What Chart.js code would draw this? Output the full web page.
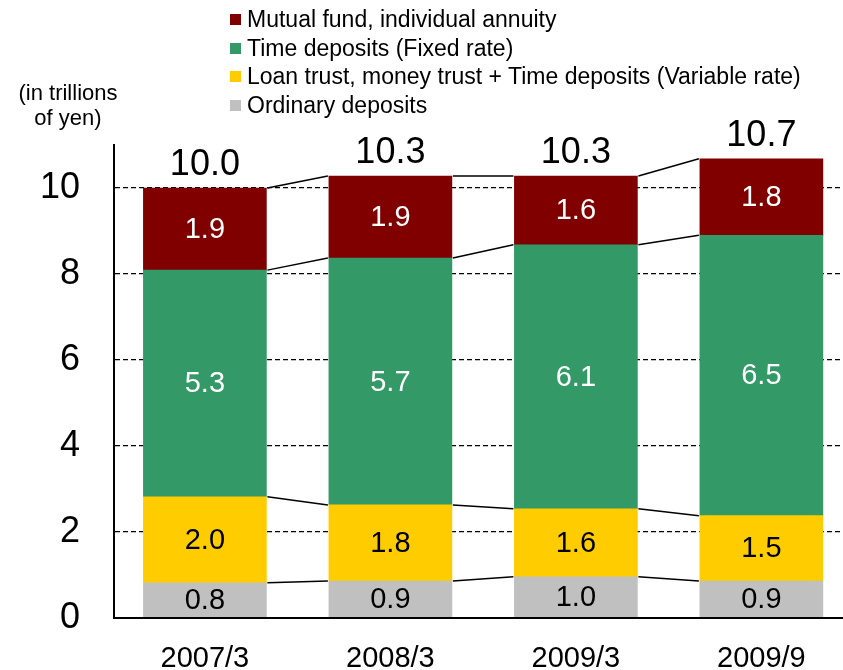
<!DOCTYPE html>
<html>
<head>
<meta charset="utf-8">
<script src="https://cdn.jsdelivr.net/npm/chart.js@4"></script>
<style>
  body { margin: 0; background: #fff; }
  #wrap { position: relative; width: 843px; height: 670px; font-family: 'Liberation Sans', Arial, sans-serif; }
  #unit { position: absolute; left: 0; width: 136px; top: 80px; text-align: center; font-size: 22px; line-height: 25px; color: #000; }
  #legend { position: absolute; left: 230px; top: 5px; }
  .row { display: flex; align-items: center; height: 28.7px; font-size: 23px; color: #000; white-space: nowrap; }
  .box { width: 11px; height: 11px; margin-right: 6px; }
</style>
</head>
<body>
<div id="wrap">
  <canvas id="chart"></canvas>
  <div id="unit">(in trillions<br>of yen)</div>
  <div id="legend"></div>
</div>
<script>
// categories and series (trillions of yen)
const categories = ['2007/3', '2008/3', '2009/3', '2009/9'];
const ordinaryDeposits = [0.82, 0.86, 0.96, 0.86];
const loanTrust = [2.00, 1.77, 1.58, 1.52];
const timeDepositsFixed = [5.27, 5.74, 6.14, 6.52];
const mutualFund = [1.91, 1.91, 1.60, 1.78];
const yTicks = [0, 2, 4, 6, 8, 10];

const seriesNames = [
    'Ordinary deposits',
    'Loan trust, money trust + Time deposits (Variable rate)',
    'Time deposits (Fixed rate)',
    'Mutual fund, individual annuity'
];
const seriesColors = ['#C0C0C0', '#FFCC00', '#339966', '#800000'];
const labelColors = ['#000', '#000', '#fff', '#fff'];
const seriesValues = [ordinaryDeposits, loanTrust, timeDepositsFixed, mutualFund];

const FONT = "'Liberation Sans', Arial, sans-serif";

// legend, top series first
const legendEl = document.getElementById('legend');
for (let i = seriesNames.length - 1; i >= 0; i--) {
    const row = document.createElement('div');
    row.className = 'row';
    row.innerHTML = `<span class="box" style="background:${seriesColors[i]}"></span>${seriesNames[i]}`;
    legendEl.appendChild(row);
}

// connectors between bars + value labels
const barExtras = {
    id: 'barExtras',
    afterDatasetsDraw(chart) {
        const ctx = chart.ctx;
        const metas = seriesValues.map((_, d) => chart.getDatasetMeta(d));

        ctx.save();
        ctx.strokeStyle = '#000';
        ctx.lineWidth = 1.5;
        metas.forEach(meta => {
            for (let i = 0; i < meta.data.length - 1; i++) {
                const a = meta.data[i], b = meta.data[i + 1];
                ctx.beginPath();
                ctx.moveTo(a.x + a.width / 2 + 1, a.y);
                ctx.lineTo(b.x - b.width / 2 - 1, b.y);
                ctx.stroke();
            }
        });
        ctx.restore();

        ctx.save();
        ctx.textAlign = 'center';
        ctx.textBaseline = 'middle';
        ctx.font = `29px ${FONT}`;
        metas.forEach((meta, d) => {
            ctx.fillStyle = labelColors[d];
            meta.data.forEach((bar, i) => {
                ctx.fillText(seriesValues[d][i].toFixed(1), bar.x, (bar.y + bar.base) / 2 + 1);
            });
        });

        ctx.font = `36px ${FONT}`;
        ctx.fillStyle = '#000';
        const top = metas[metas.length - 1];
        top.data.forEach((bar, i) => {
            const total = seriesValues.reduce((s, arr) => s + arr[i], 0);
            ctx.fillText(total.toFixed(1), bar.x, bar.y - 23);
        });
        ctx.restore();
    }
};

new Chart(document.getElementById('chart'), {
    type: 'bar',
    data: {
        datasets: seriesValues.map((vals, d) => ({
            label: seriesNames[d],
            data: vals.map((v, i) => ({ x: i, y: v })),
            backgroundColor: seriesColors[d],
            barThickness: 123
        }))
    },
    options: {
        responsive: true,
        maintainAspectRatio: false,
        animation: false,
        layout: { padding: { top: 145, right: 0, left: 0, bottom: 0 } },
        plugins: { legend: { display: false }, tooltip: { enabled: false } },
        scales: {
            x: {
                type: 'linear',
                stacked: true,
                offset: false,
                min: -0.49,
                max: 3.44,
                afterBuildTicks: axis => { axis.ticks = categories.map((_, i) => ({ value: i })); },
                afterFit: axis => { axis.height = 52; },
                grid: { display: false, drawTicks: false },
                border: { display: true, color: '#000', width: 2, z: 1 },
                ticks: {
                    padding: 24,
                    color: '#000',
                    font: { family: FONT, size: 29 },
                    maxRotation: 0,
                    autoSkip: false,
                    callback: v => categories[v]
                }
            },
            y: {
                stacked: true,
                min: 0,
                max: 11,
                afterBuildTicks: axis => { axis.ticks = yTicks.map(v => ({ value: v })); },
                afterFit: axis => { axis.width = 114; },
                grid: { color: '#000', lineWidth: 1.3, drawTicks: false },
                border: { display: true, color: '#000', width: 2, dash: [5, 3], z: 1 },
                ticks: {
                    padding: 34,
                    color: '#000',
                    font: { family: FONT, size: 36, lineHeight: 1 },
                    callback: v => String(v)
                }
            }
        }
    },
    plugins: [barExtras]
});
</script>
</body>
</html>
